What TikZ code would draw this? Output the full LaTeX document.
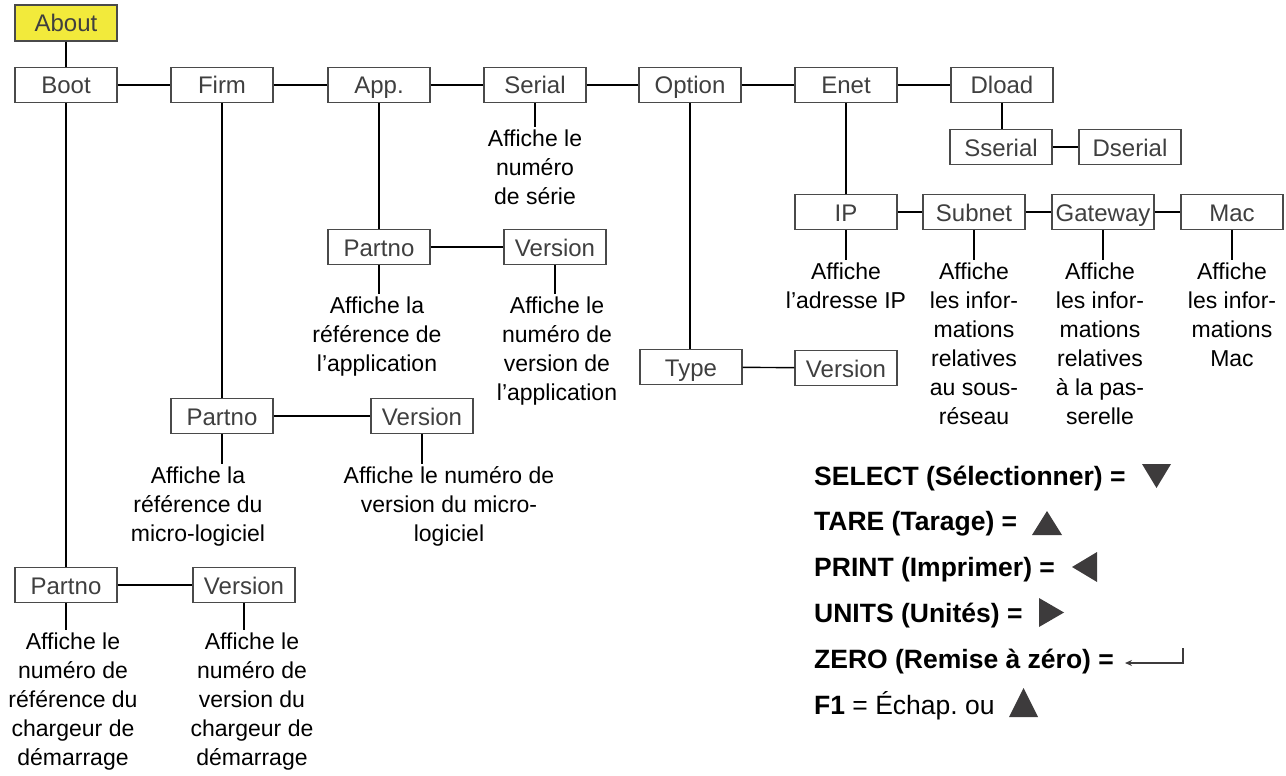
\documentclass[tikz,border=0pt]{standalone}
\usepackage{fontspec}
\setmainfont{Liberation Sans}
\usetikzlibrary{positioning,arrows.meta}
\definecolor{boxline}{HTML}{4A4A4A}
\definecolor{boxtext}{HTML}{3F3F3F}
\definecolor{aboutyellow}{HTML}{F2EA3B}
\definecolor{trigrey}{HTML}{3D3B3C}
\tikzset{
  menu/.style={draw=boxline, line width=1.3pt, fill=white, text=boxtext,
    minimum width=102pt, minimum height=35pt, inner sep=0pt,
    text height=20pt, text depth=2pt,
    font=\fontsize{24}{27}\selectfont},
  desc/.style={align=center, inner sep=2pt, font=\fontsize{23}{29}\selectfont},
  link/.style={line width=1.4pt, black},
  keyline/.style={anchor=base west, inner sep=0pt, font=\fontsize{26.5}{30}\selectfont},
  tri/.style={fill=trigrey},
}
\begin{document}
\begin{tikzpicture}[x=1pt, y=-1pt]
  \useasboundingbox (0,0) rectangle (1286,776);

  \node[menu, fill=aboutyellow, minimum height=36pt] (about) at (66,23) {About};
  \node[menu] (boot) at (66,85) {Boot};
  \node[menu] (firm) at (222,85) {Firm};
  \node[menu] (app) at (379,85) {App.};
  \node[menu] (serial) at (535,85) {Serial};
  \node[menu] (option) at (690,85) {Option};
  \node[menu] (enet) at (846,85) {Enet};
  \node[menu] (dload) at (1002,85) {Dload};
  \node[menu] (sserial) at (1001,147) {Sserial};
  \node[menu] (dserial) at (1130,147) {Dserial};
  \node[menu] (ip) at (846,212) {IP};
  \node[menu] (subnet) at (974,212) {Subnet};
  \node[menu] (gateway) at (1103,212) {Gateway};
  \node[menu] (mac) at (1232,212) {Mac};
  \node[menu] (apppn) at (379,247) {Partno};
  \node[menu] (appver) at (555,247) {Version};
  \node[menu] (type) at (691,367) {Type};
  \node[menu] (optver) at (846,368) {Version};
  \node[menu] (firmpn) at (222,416) {Partno};
  \node[menu] (firmver) at (422,416) {Version};
  \node[menu] (bootpn) at (66,585) {Partno};
  \node[menu] (bootver) at (244,585) {Version};

  \node[desc, below=24pt of serial] (serialtxt) {Affiche le\\numéro\\de série};
  \node[desc, below=29pt of apppn, xshift=-2pt] (apppntxt) {Affiche la\\référence de\\l’application};
  \node[desc, below=29pt of appver, xshift=2pt] (appvertxt) {Affiche le\\numéro de\\version de\\l’application};
  \node[desc, below=30pt of firmpn, xshift=-24pt] (firmpntxt) {Affiche la\\référence du\\micro-logiciel};
  \node[desc, below=30pt of firmver, xshift=27pt] (firmvertxt) {Affiche le numéro de\\version du micro-\\logiciel};
  \node[desc, below=27pt of bootpn, xshift=7pt] (bootpntxt) {Affiche le\\numéro de\\référence du\\chargeur de\\démarrage};
  \node[desc, below=27pt of bootver, xshift=8pt] (bootvertxt) {Affiche le\\numéro de\\version du\\chargeur de\\démarrage};
  \node[desc, below=30pt of ip] (iptxt) {Affiche\\l’adresse IP};
  \node[desc, below=30pt of subnet] (subnettxt) {Affiche\\les infor-\\mations\\relatives\\au sous-\\réseau};
  \node[desc, below=30pt of gateway, xshift=-3pt] (gatewaytxt) {Affiche\\les infor-\\mations\\relatives\\à la pas-\\serelle};
  \node[desc, below=30pt of mac] (mactxt) {Affiche\\les infor-\\mations\\Mac};

  \draw[link] (about) -- (boot);
  \draw[link] (boot) -- (firm) -- (app) -- (serial) -- (option) -- (enet) -- (dload);
  \draw[link] (dload) -- (dload |- sserial.north);
  \draw[link] (sserial) -- (dserial);
  \draw[link] (enet) -- (ip);
  \draw[link] (ip) -- (subnet) -- (gateway) -- (mac);
  \draw[link] (app) -- (apppn);
  \draw[link] (apppn) -- (appver);
  \draw[link] (option) -- (option |- type.north);
  \draw[link] (type) -- (optver);
  \draw[link] (firm) -- (firmpn);
  \draw[link] (firmpn) -- (firmver);
  \draw[link] (boot) -- (bootpn);
  \draw[link] (bootpn) -- (bootver);

  \foreach \b in {serial, apppn, appver, firmpn, firmver, bootpn, bootver, ip, subnet, gateway, mac}
    \draw[link] (\b.south) -- (\b.south |- \b txt.north);

  \node[keyline] (selkey) at (814,485) {\bfseries SELECT (Sélectionner) =};
  \node[keyline] (tarekey) at (814,530) {\bfseries TARE (Tarage) =};
  \node[keyline] (printkey) at (814,576) {\bfseries PRINT (Imprimer) =};
  \node[keyline] (unitskey) at (814,622) {\bfseries UNITS (Unités) =};
  \node[keyline] (zerokey) at (814,668) {\bfseries ZERO (Remise à zéro) =};
  \node[keyline] (fkey) at (814,714) {\textbf{F1} = Échap.\ ou};

  \fill[tri] (1142,464) -- (1171,464) -- (1156.5,488) -- cycle;
  \fill[tri] (1032,535) -- (1062,535) -- (1047,511) -- cycle;
  \fill[tri] (1097,552) -- (1097,582) -- (1072,567) -- cycle;
  \fill[tri] (1039,598) -- (1039,627) -- (1064,612.5) -- cycle;
  \fill[tri] (1009,717) -- (1038,717) -- (1023.5,688) -- cycle;
  \draw[line width=1.3pt, trigrey, -{Stealth[length=7pt, width=6pt]}] (1183,648) -- (1183,663) -- (1125,663);
\end{tikzpicture}
\end{document}
